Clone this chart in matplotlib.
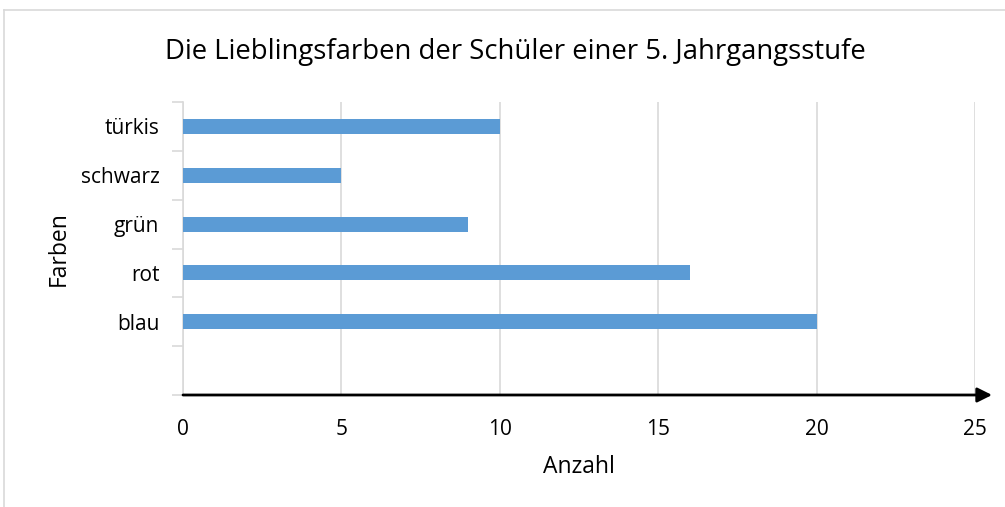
import matplotlib.pyplot as plt
from matplotlib.lines import Line2D

plt.rcParams['font.family'] = ['Open Sans', 'DejaVu Sans']

farben = ['', 'blau', 'rot', 'grün', 'schwarz', 'türkis']
anzahl = [0, 20, 16, 9, 5, 10]
x_ticks = [0, 5, 10, 15, 20, 25]

fig = plt.figure(figsize=(10.05, 5.07), dpi=100)
W, H = 1005, 507
ax = fig.add_axes([183 / W, 1 - 395 / H, 792 / W, 293 / H])

pos = list(range(len(farben)))
vals = [a if f else 0 for f, a in zip(farben, anzahl)]
ax.barh(pos, vals, height=0.31, color='#5B9BD5', zorder=3)

ax.set_xlim(0, 25)
ax.set_ylim(-0.5, len(farben) - 0.5)
ax.set_xticks(x_ticks)
ax.set_yticks([p - 0.5 for p in pos] + [len(farben) - 0.5])
ax.set_yticklabels([])
ax.set_yticks(pos, minor=True)
ax.set_yticklabels(farben, minor=True)
ax.tick_params(axis='y', which='major', length=8, color='#d9d9d9', width=1.2)
ax.tick_params(axis='y', which='minor', length=0, labelsize=15, pad=17)
ax.tick_params(axis='x', length=0, labelsize=15, pad=17)
ax.grid(axis='x', color='#d9d9d9', lw=1.2, zorder=0)

for s in ['top', 'right', 'bottom']:
    ax.spines[s].set_visible(False)
ax.spines['left'].set_color('#d9d9d9')
ax.spines['left'].set_linewidth(1.2)

# x axis drawn as an arrow
ax.annotate('', xy=(1.0215, 0), xycoords='axes fraction', xytext=(0, 0),
            arrowprops=dict(arrowstyle='-|>', color='black', lw=2,
                            mutation_scale=22, shrinkA=0, shrinkB=0),
            annotation_clip=False, zorder=5)

ax.set_xlabel('Anzahl', fontsize=16.5, labelpad=11)
ax.set_ylabel('Farben', fontsize=16.5, labelpad=7)
fig.text(515 / W, 1 - 52 / H, 'Die Lieblingsfarben der Schüler einer 5. Jahrgangsstufe',
         ha='center', va='center', fontsize=19.8)

# outer chart frame
fig.add_artist(Line2D([4 / W, 4 / W], [0, 1 - 10 / H], transform=fig.transFigure,
                      color='#d9d9d9', lw=1.2))
fig.add_artist(Line2D([4 / W, 1], [1 - 10 / H, 1 - 10 / H], transform=fig.transFigure,
                      color='#d9d9d9', lw=1.2))

fig.savefig('out.png', dpi=100)
